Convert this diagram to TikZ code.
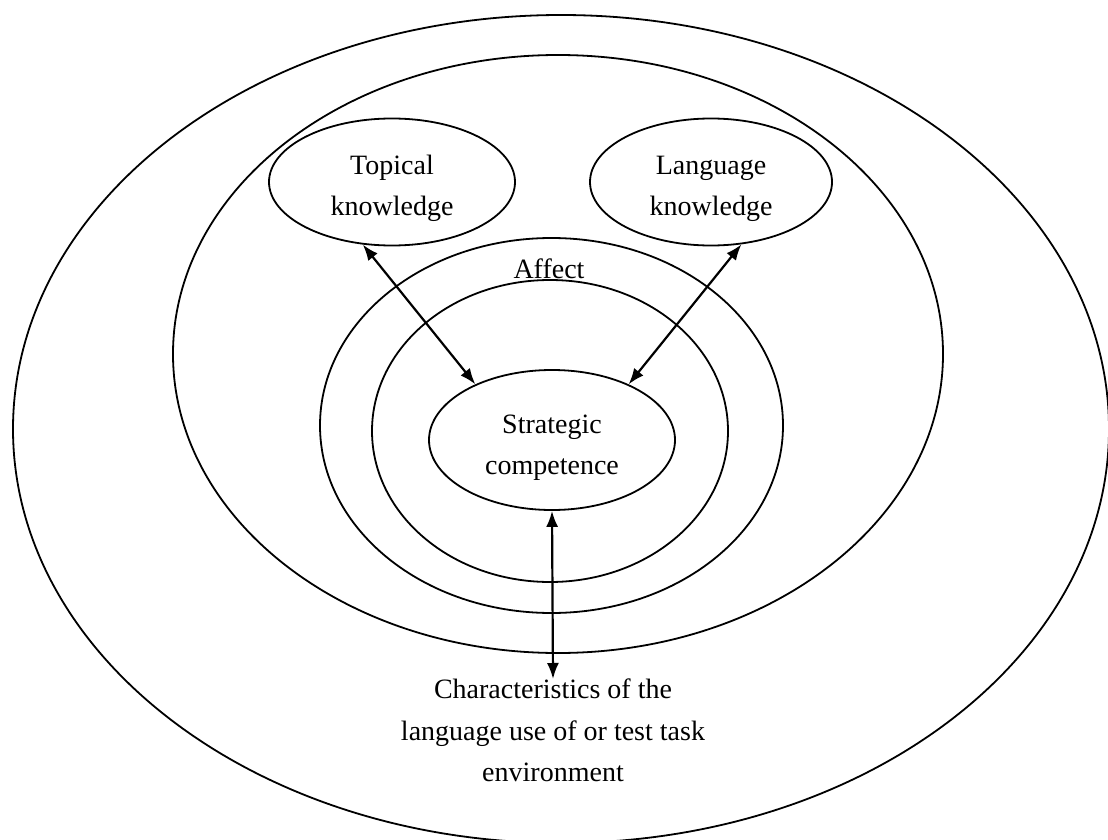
\documentclass[tikz,border=0pt]{standalone}
\usepackage{fontspec}
\setmainfont{Liberation Serif}
\usetikzlibrary{shapes.geometric,arrows.meta}
% invisible strut that pushes a two-line caption slightly lower in its oval
\newcommand{\capstrut}{\rule{0pt}{33pt}}
\begin{document}
\begin{tikzpicture}[x=1pt,y=-1pt,
  ring/.style={line width=1.8pt},
  oval/.style={ellipse,draw,line width=1.8pt,inner sep=0pt,align=center,
    font=\fontsize{28}{41}\selectfont},
  textlabel/.style={inner sep=0pt,align=center,font=\fontsize{28}{41.5}\selectfont},
  link/.style={line width=2.2pt,
    {Latex[length=16pt,width=12pt]}-{Latex[length=16pt,width=12pt]}}]
\useasboundingbox (0,0) rectangle (1108,840);
\fill[white] (0,0) rectangle (1108,840);
\clip (0,0) rectangle (1108,840);

% nested context rings
\draw[ring] (561,429) ellipse [x radius=548pt, y radius=414pt];
\draw[ring] (558,354) ellipse [x radius=385pt, y radius=299pt];
\draw[ring] (551.5,425.5) ellipse [x radius=231.5pt, y radius=187.5pt];
\draw[ring] (550,431) ellipse [x radius=178pt, y radius=151pt];

% knowledge and competence areas
\node[oval,minimum width=246pt,minimum height=127pt] (topical) at (392,182)
  {\capstrut Topical\\knowledge};
\node[oval,minimum width=242pt,minimum height=127pt] (language) at (711,182)
  {\capstrut Language\\knowledge};
\node[oval,minimum width=246pt,minimum height=140pt] (strategic) at (552,440)
  {\capstrut Strategic\\competence};

% labels
\node[textlabel,anchor=base] (affect) at (549,278) {Affect};
\node[textlabel,anchor=north] (env) at (553,679)
  {Characteristics of the\\language use of or test task\\environment};

% interactions
\draw[link] (topical.245) -- (strategic.144);
\draw[link] (language.296) -- (strategic.36);
\draw[link] (strategic.south) -- (env.north);
\end{tikzpicture}
\end{document}
